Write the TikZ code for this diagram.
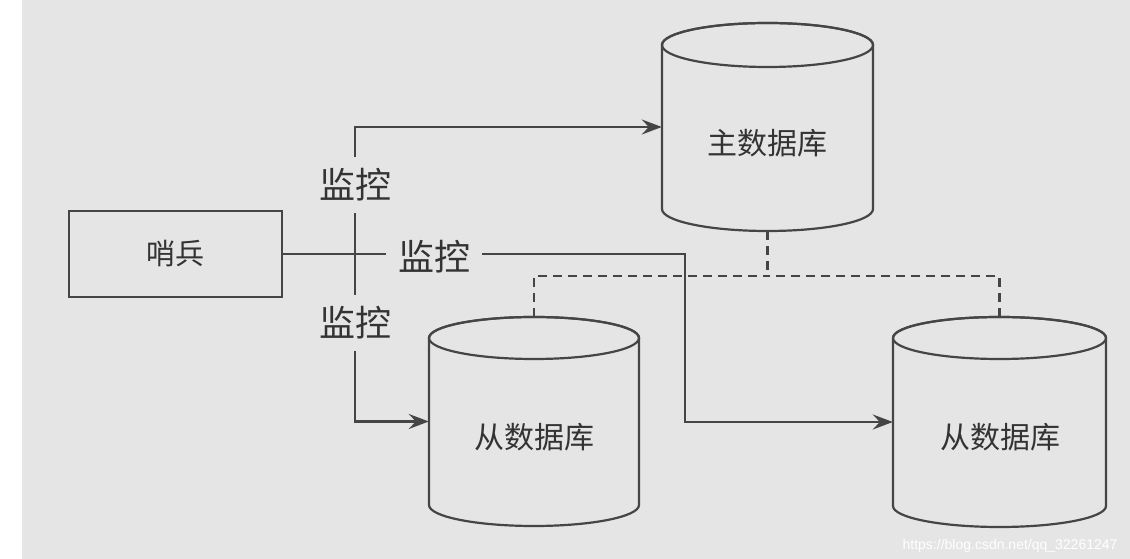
\documentclass[tikz,border=0pt]{standalone}
\usepackage{fontspec}
\newfontfamily\cjk{Noto Sans CJK SC}
\newfontfamily\wmfont{Liberation Sans}
\usetikzlibrary{arrows.meta}
\definecolor{bg}{HTML}{E5E5E5}
\definecolor{ln}{HTML}{454545}
\definecolor{tx}{HTML}{333333}
\tikzset{
  conn/.style={draw=ln, line width=2.2pt},
  arr/.style={conn, -{Stealth[length=20pt,width=15pt,inset=7pt]}},
  dsh/.style={draw=ln, line width=2.2pt, dash pattern=on 9pt off 6pt},
  lbl/.style={font=\cjk\fontsize{36}{40}\selectfont, text=tx, fill=bg, inner sep=12pt},
  dbtext/.style={font=\cjk\fontsize{30}{34}\selectfont, text=tx},
  dbnode/.style 2 args={inner sep=0pt, minimum width=#1pt, minimum height=#2pt},
  sentbox/.style={draw=ln, fill=bg, line width=2.2pt, minimum width=213pt, minimum height=86pt,
    font=\cjk\fontsize{29}{32}\selectfont, text=tx},
  cylline/.style={draw=ln, line width=2.2pt, fill=bg}
}
% cx, cy, rx, half body height, ry
\newcommand\mycyl[5]{%
  \path[cylline] ({#1-#3},{#2+#4}) -- ({#1-#3},{#2-#4})
    arc[start angle=180,end angle=360,x radius=#3pt,y radius=#5pt]
    -- ({#1+#3},{#2+#4})
    arc[start angle=0,end angle=180,x radius=#3pt,y radius=#5pt] -- cycle;
  \draw[draw=ln, line width=2.2pt] (#1,{#2+#4}) ellipse[x radius=#3pt, y radius=#5pt];
}
\begin{document}
\begin{tikzpicture}[x=1pt,y=1pt]
\useasboundingbox (0,0) rectangle (1130,559);
\fill[white] (0,0) rectangle (1130,559);
\fill[bg] (22,0) rectangle (1130,559);

% cylinders
\mycyl{767.5}{432}{105.5}{82}{22}
\mycyl{534}{137.5}{105}{83.5}{21}
\mycyl{999.5}{137}{106.5}{84}{21}

\node[dbnode={211}{208}] (main) at (767.5,432) {};
\node[dbnode={210}{209}] (s1) at (534,137.5) {};
\node[dbnode={213}{210}] (s2) at (999.5,137) {};

\node[dbtext] (maintext) at (767.5,416) {主数据库};
\node[dbtext] (s1text) at (534,122) {从数据库};
\node[dbtext] (s2text) at (1000,122) {从数据库};

% sentinel
\node[sentbox] (sen) at (175.5,305) {哨兵};

\coordinate (j) at (355,305);
\coordinate (k) at (685,305);
\coordinate (d0) at (767.5,283);

% dashed replication lines
\draw[dsh] (main.south) -- (d0);
\draw[dsh] (s1.north) |- (d0);
\draw[dsh] (s2.north) |- (d0);

% monitoring connectors
\draw[conn] (sen.east) -- (j);
\draw[arr] (j) |- (main.west);
\draw[arr] (j) |- (s1.west);
\draw[arr] (j) -- (k) |- (s2.west);

% labels
\node[lbl] (l1) at (355,374) {监控};
\node[lbl] (l2) at (434,302) {监控};
\node[lbl] (l3) at (355,236) {监控};

\node[font=\wmfont\fontsize{14}{16}\selectfont, text=white, anchor=east] (wm) at (1121,13) {https://blog.csdn.net/qq\_32261247};
\end{tikzpicture}
\end{document}
